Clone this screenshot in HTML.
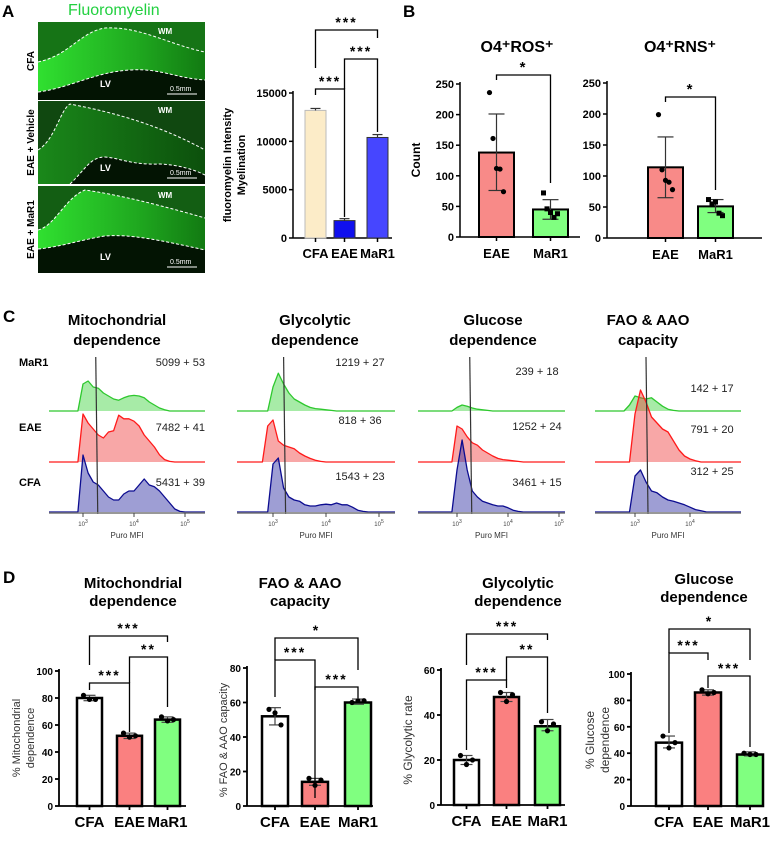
<!DOCTYPE html>
<html><head><meta charset="utf-8">
<style>
html,body{margin:0;padding:0;background:#fff;}
svg{display:block;font-family:"Liberation Sans",Arial,sans-serif;}
</style></head>
<body>
<svg id="fig" width="777" height="861" viewBox="0 0 777 861" xmlns="http://www.w3.org/2000/svg">
<defs>
<linearGradient id="g1" x1="0" y1="0" x2="1" y2="0"><stop offset="0" stop-color="#30e030"/><stop offset="0.6" stop-color="#1fa81f"/><stop offset="1" stop-color="#127a12"/></linearGradient>
<linearGradient id="g2" x1="0" y1="0" x2="1" y2="0"><stop offset="0" stop-color="#1a881a"/><stop offset="1" stop-color="#0c500c"/></linearGradient>
</defs>
<g id="root"></g>
</svg>
<script>
// ---------- DATA ----------
var aCats = ['CFA','EAE','MaR1'];
var aVals = [13200, 1800, 10400];
var aErr = [200, 200, 300];
var aTicks = [0, 5000, 10000, 15000];

var bCats = ['EAE','MaR1'];
var rosVals = [138, 45];
var rosHi = [201, 61];
var rosLo = [76, 29];
var rosPtsEAE = [236, 161, 112, 111, 74];
var rosPtsMaR1 = [72, 46, 40, 32, 38];
var rnsVals = [114, 51];
var rnsHi = [163, 62];
var rnsLo = [65, 41];
var rnsPtsEAE = [199, 110, 93, 90, 78];
var rnsPtsMaR1 = [62, 55, 58, 40, 36];
var bTicks = [0, 50, 100, 150, 200, 250];

var histLog = [2.7,2.8,2.9,3.0,3.1,3.2,3.3,3.4,3.5,3.6,3.7,3.8,3.9,4.0,4.1,4.2,4.3,4.4,4.5,4.6,4.7,4.8,4.9,5.0,5.1,5.2];
var mitoGreen = [0,0,0,45,50,40,38,30,25,20,18,22,25,26,25,22,15,10,5,2,0,0,0,0,0,0];
var mitoRed   = [0,0,0,80,65,55,45,40,50,52,78,72,72,68,60,45,35,25,12,4,1,0,0,0,0,0];
var mitoBlue  = [0,0,0,95,65,50,45,35,25,20,20,30,35,35,45,55,45,42,35,25,15,5,1,0,0,0];
var glyGreen  = [0,0,0,40,63,45,30,20,15,10,6,4,3,2,1,0,0,0,0,0,0,0,0,0,0,0];
var glyRed    = [0,0,60,70,35,28,25,22,15,10,6,3,1,0,0,0,0,0,0,0,0,0,0,0,0,0];
var glyBlue   = [0,0,0,80,90,40,25,20,18,12,10,10,12,13,12,15,12,12,8,3,1,0,0,0,0,0];
var gluGreen  = [0,0,0,6,10,8,5,3,2,1,0,0,0,0,0,0,0,0,0,0,0,0,0,0,0,0];
var gluRed    = [0,0,0,60,55,42,32,28,20,15,10,6,4,3,2,1,0,0,0,0,0,0,0,0,0,0];
var gluBlue   = [0,0,0,70,120,70,35,25,18,15,12,10,10,7,3,1,0,0,0,0,0,0,0,0,0,0];
var faoGreen  = [0,0,10,25,22,20,22,15,8,3,1,0,0,0,0,0,0,0,0,0,0,0,0,0,0,0];
var faoRed    = [0,0,0,80,120,100,75,65,55,50,35,20,10,5,2,0,0,0,0,0,0,0,0,0,0,0];
var faoBlue   = [0,0,0,60,70,50,35,32,25,20,18,15,12,8,4,2,0,0,0,0,0,0,0,0,0,0];
var histStats = [['5099 + 53','7482 + 41','5431 + 39'],['1219 + 27','818 + 36','1543 + 23'],['239 + 18','1252 + 24','3461 + 15'],['142 + 17','791 + 20','312 + 25']];
var histGates = [3.25, 3.2, 3.25, 3.2];

var dCats = ['CFA','EAE','MaR1'];
var mitoVals = [80, 52, 64]; var mitoHi = [82, 54, 66]; var mitoLo = [78, 50, 62];
var mitoPts = [[82,79,79],[54,51,52],[66,63,64]];
var faoVals = [52, 14, 60]; var faoHi = [57, 16, 62]; var faoLo = [47, 12, 59];
var faoPts = [[56,54,47],[16,12,15],[60,61,61]];
var glyVals = [20, 48, 35]; var glyHi = [22, 50, 38]; var glyLo = [18, 46, 33];
var glyPts = [[22,18,20],[50,46,49],[37,33,36]];
var gluVals = [48, 86, 39]; var gluHi = [53, 88, 41]; var gluLo = [44, 84, 38];
var gluPts = [[53,44,48],[88,85,86],[40,39,39]];
var d100Ticks = [0,20,40,60,80,100];
var d80Ticks = [0,20,40,60,80];
var d60Ticks = [0,20,40,60];

// ---------- HELPERS ----------
var NS = 'http://www.w3.org/2000/svg';
var root = document.getElementById('root');
function mk(tag, attrs, parent){
  var e = document.createElementNS(NS, tag);
  for (var k in attrs) e.setAttribute(k, attrs[k]);
  (parent || root).appendChild(e);
  return e;
}
function txt(s, x, y, attrs, name, parent){
  var t = mk('text', Object.assign({x:x, y:y}, attrs), parent);
  t.textContent = s;
  
  
  return t;
}
function line(x1,y1,x2,y2,stroke,w,name,parent){
  var l = mk('line',{x1:x1,y1:y1,x2:x2,y2:y2,stroke:stroke,'stroke-width':w},parent);
  
  
  return l;
}

// ---------- PANEL LETTERS ----------
txt('A',2,17,{'font-size':17,'font-weight':'bold'},'panel-a-label');
txt('B',403,17,{'font-size':17,'font-weight':'bold'},'panel-b-label');
txt('C',3,322,{'font-size':17,'font-weight':'bold'},'panel-c-label');
txt('D',3,583,{'font-size':17,'font-weight':'bold'},'panel-d-label');

// ---------- PANEL A MICROGRAPHS ----------
txt('Fluoromyelin',68,15,{'font-size':16,fill:'#22d040'},'fluoromyelin-title');
var micro = [
  {y:22,h:78,lab:'CFA',grad:'url(#g1)',top:'M38,62 C70,55 80,32 105,28 C140,26 170,45 205,52',bot:'M38,92 C70,88 95,72 130,70 C160,68 175,78 205,80',topc:'#167416'},
  {y:101,h:83,lab:'EAE + Vehicle',grad:'url(#g2)',top:'M38,150 C55,140 60,110 70,104 C100,110 150,120 205,150',bot:'M70,184 C85,170 90,157 105,157 C120,158 130,165 160,164 C180,165 195,170 205,175',topc:'#104810'},
  {y:186,h:87,lab:'EAE + MaR1',grad:'url(#g1)',top:'M38,230 C55,226 65,198 85,190 C120,195 160,205 205,218',bot:'M38,249 C60,247 80,240 105,236 C130,234 160,240 205,250',topc:'#135e13'}
];
micro.forEach(function(m,i){
  var g = mk('g',{});
  
  
  var r = mk('rect',{x:38,y:m.y,width:167,height:m.h,fill:m.grad},g);
  
  
  var yb = m.y+m.h;
  var tp = mk('path',{d:m.top+' L205,'+m.y+' L38,'+m.y+' Z',fill:m.topc},g);
  
  
  var bp = mk('path',{d:m.bot+' L205,'+yb+' L38,'+yb+' Z',fill:'#031403'},g);
  
  
  var d1 = mk('path',{d:m.top,fill:'none',stroke:'#fff','stroke-width':1,'stroke-dasharray':'3,2'},g);
  
  
  var d2 = mk('path',{d:m.bot,fill:'none',stroke:'#fff','stroke-width':1,'stroke-dasharray':'3,2'},g);
  
  
  txt('WM',158,m.y+12,{'font-size':8,'font-weight':'bold',fill:'#fff'},'wm-label',g);
  txt('LV',100,m.y+m.h-13,{'font-size':9,'font-weight':'bold',fill:'#fff'},'lv-label',g);
  txt('0.5mm',170,m.y+m.h-9,{'font-size':7,fill:'#fff'},'scale-bar-label',g);
  line(167,m.y+m.h-6,197,m.y+m.h-6,'#fff',1,'scale-bar',g);
  var cy = m.y+m.h/2;
  txt(m.lab,0,0,{'font-size':10,'font-weight':'bold','text-anchor':'middle',transform:'translate(34,'+cy+') rotate(-90)'},'micrograph-row-label');
});

// ---------- BAR CHART GENERIC ----------
function barChart(c){
  var g = mk('g',{});
  
  
  function y(v){ return c.y0 - v*(c.y0-c.yTop)/c.vmax; }
  line(c.ax, c.yTop-2, c.ax, c.y0, '#000', c.aw, 'y-axis', g);
  line(c.ax, c.y0, c.axEnd, c.y0, '#000', c.aw, 'x-axis', g);
  c.ticks.forEach(function(t){
    line(c.ax-4, y(t), c.ax, y(t), '#000', c.aw, 'y-tick', g);
    txt(String(t), c.ax-6, y(t)+4, {'font-size':c.tfs,'font-weight':'bold','text-anchor':'end'}, 'y-tick-label', g);
  });
  c.vals.forEach(function(v,i){
    var x0 = c.bx[i], w = c.bw, cx = x0+w/2;
    var b = mk('rect',{x:x0,y:y(v),width:w,height:c.y0-y(v),fill:c.colors[i],stroke:c.stroke[i],'stroke-width':c.sw},g);
    
    
    var hi = c.hi[i], lo = c.lo[i];
    line(cx, y(hi), cx, y(lo), c.ecol, 1.2, 'error-bar', g);
    line(cx-c.cap, y(hi), cx+c.cap, y(hi), c.ecol, 1.2, 'error-cap-high', g);
    if (c.capLo) line(cx-c.cap, y(lo), cx+c.cap, y(lo), c.ecol, 1.2, 'error-cap-low', g);
    line(cx, c.y0, cx, c.y0+4, '#000', c.aw, 'x-tick', g);
    txt(c.cats[i], cx, c.y0+c.lblOff, {'font-size':c.lfs,'font-weight':'bold','text-anchor':'middle'}, 'x-tick-label', g);
    if (c.pts){
      var p = c.pts[i], n = p.length;
      p.forEach(function(pv,j){
        var px = cx + (n>1 ? (j-(n-1)/2)*(c.spread/(n-1)) : 0);
        var dot;
        if (c.square && c.square[i]) dot = mk('rect',{x:px-2.5,y:y(pv)-2.5,width:5,height:5,fill:'#000'},g);
        else dot = mk('circle',{cx:px,cy:y(pv),r:2.6,fill:'#000'},g);
        
        
      });
    }
  });
  (c.brackets||[]).forEach(function(br){
    var xa = c.bx[br.a]+c.bw/2, xb = c.bx[br.b]+c.bw/2;
    var p = mk('path',{d:'M'+xa+','+br.la+' L'+xa+','+br.y+' L'+xb+','+br.y+' L'+xb+','+br.lb,fill:'none',stroke:'#000','stroke-width':1.3},g);
    
    
    txt(br.s,(xa+xb)/2,br.y-3,{'font-size':c.sfs,'font-weight':'bold','text-anchor':'middle','letter-spacing':'2'},'significance-stars',g);
  });
  return g;
}

// ---------- PANEL A CHART ----------
barChart({name:'myelination-chart',ax:293,axEnd:392,y0:238,yTop:93,vmax:15000,aw:1.5,ticks:aTicks,tfs:11,
  vals:aVals,hi:aVals.map(function(v,i){return v+aErr[i];}),lo:aVals,cats:aCats,bx:[305,334,367],bw:21,
  colors:['#fcecc8','#1010ee','#4646ff'],stroke:['#bbb','#333','#333'],sw:1,ecol:'#333',cap:5,capLo:false,
  lblOff:20,lfs:13,sfs:14,brackets:[
  {a:0,b:1,y:89,la:95,lb:217,s:'***'},
  {a:1,b:2,y:59,la:89,lb:132,s:'***'},
  {a:0,b:2,y:30,la:68,lb:38,s:'***'}]});
txt('fluoromyelin Intensity',0,0,{'font-size':11,'font-weight':'bold','text-anchor':'middle',transform:'translate(231,165) rotate(-90)'},'y-axis-title-line1');
txt('Myelination',0,0,{'font-size':11,'font-weight':'bold','text-anchor':'middle',transform:'translate(245,165) rotate(-90)'},'y-axis-title-line2');

// ---------- PANEL B ----------
txt('O4⁺ROS⁺',517,52,{'font-size':16,'font-weight':'bold','text-anchor':'middle'},'ros-chart-title');
barChart({name:'ros-chart',ax:460,axEnd:580,y0:237,yTop:84,vmax:250,aw:1.5,ticks:bTicks,tfs:11,
  vals:rosVals,hi:rosHi,lo:rosLo,cats:bCats,bx:[479,533],bw:35,colors:['#f88a88','#80ff80'],stroke:['#000','#000'],sw:2,
  ecol:'#333',cap:8,capLo:true,lblOff:21,lfs:13,sfs:15,pts:[rosPtsEAE,rosPtsMaR1],spread:14,square:[false,true],
  brackets:[{a:0,b:1,y:75,la:80,lb:183,s:'*'}]});
txt('Count',0,0,{'font-size':12,'font-weight':'bold','text-anchor':'middle',transform:'translate(420,160) rotate(-90)'},'count-axis-title');
txt('O4⁺RNS⁺',680,52,{'font-size':16,'font-weight':'bold','text-anchor':'middle'},'rns-chart-title');
barChart({name:'rns-chart',ax:607,axEnd:762,y0:238,yTop:83,vmax:250,aw:1.5,ticks:bTicks,tfs:11,
  vals:rnsVals,hi:rnsHi,lo:rnsLo,cats:bCats,bx:[648,698],bw:35,colors:['#f88a88','#80ff80'],stroke:['#000','#000'],sw:2,
  ecol:'#333',cap:8,capLo:true,lblOff:21,lfs:13,sfs:15,pts:[rnsPtsEAE,rnsPtsMaR1],spread:14,square:[false,true],
  brackets:[{a:0,b:1,y:97,la:102,lb:190,s:'*'}]});

// ---------- PANEL C HISTOGRAMS ----------
var panelsC = [
  {t1:'Mitochondrial',t2:'dependence',cx:117,x0:49,x1:205,x3:83,dec:51,series:[mitoGreen,mitoRed,mitoBlue],sx:205,anchor:'end',sy:[366,431,486]},
  {t1:'Glycolytic',t2:'dependence',cx:315,x0:237,x1:395,x3:273,dec:53,series:[glyGreen,glyRed,glyBlue],sx:360,anchor:'middle',sy:[366,424,480]},
  {t1:'Glucose',t2:'dependence',cx:493,x0:418,x1:565,x3:457,dec:51,series:[gluGreen,gluRed,gluBlue],sx:537,anchor:'middle',sy:[375,430,486]},
  {t1:'FAO & AAO',t2:'capacity',cx:648,x0:595,x1:741,x3:635,dec:55,series:[faoGreen,faoRed,faoBlue],sx:712,anchor:'middle',sy:[392,433,475]}
];
var baseY = [411,462,512];
var fills = ['rgba(60,210,60,0.45)','rgba(240,60,60,0.45)','rgba(40,40,160,0.45)'];
var strokes = ['#2ec82e','#ff1a1a','#0c0c90'];
panelsC.forEach(function(p,pi){
  var g = mk('g',{});
  
  
  txt(p.t1,p.cx,325,{'font-size':15,'font-weight':'bold','text-anchor':'middle'},'histogram-title-line1',g);
  txt(p.t2,p.cx,345,{'font-size':15,'font-weight':'bold','text-anchor':'middle'},'histogram-title-line2',g);
  function xs(l){ return p.x3 + (l-3)*p.dec; }
  p.series.forEach(function(s,si){
    var by = baseY[si];
    var d = 'M'+p.x0+','+by;
    histLog.forEach(function(l,k){
      var x = Math.max(p.x0, Math.min(p.x1, xs(l)));
      d += ' L'+x.toFixed(1)+','+(by - s[k]*0.6).toFixed(1);
    });
    d += ' L'+p.x1+','+by;
    var path = mk('path',{d:d,fill:fills[si],stroke:strokes[si],'stroke-width':1.3,'stroke-linejoin':'round'},g);
    
    
    txt(histStats[pi][si],p.sx,p.sy[si],{'font-size':11,'text-anchor':p.anchor,fill:'#222'},'mfi-value',g);
  });
  var gx = xs(histGates[pi]);
  line(gx,357,gx+2,514,'#333',1.2,'gate-line',g);
  line(p.x0,513,p.x1,513,'#777',1.5,'histogram-x-axis',g);
  [3,4,5].forEach(function(e){
    var x = xs(e);
    if (x <= p.x1+3){
      line(x,513,x,517,'#444',1,'histogram-tick',g);
      var t = txt('10',x,526,{'font-size':6,'text-anchor':'middle',fill:'#444'},'histogram-tick-label',g);
      var sup = mk('tspan',{dy:-3,'font-size':5},t); sup.textContent = String(e);
    }
  });
  txt('Puro MFI',(p.x0+p.x1)/2,538,{'font-size':8,'text-anchor':'middle',fill:'#333'},'histogram-x-axis-title',g);
});
txt('MaR1',19,366,{'font-size':11,'font-weight':'bold'},'row-label-mar1');
txt('EAE',19,431,{'font-size':11,'font-weight':'bold'},'row-label-eae');
txt('CFA',19,486,{'font-size':11,'font-weight':'bold'},'row-label-cfa');

// ---------- PANEL D ----------
var dColors = ['#ffffff','#fa8080','#80ff80'];
var dStroke = ['#000','#000','#000'];
function dChart(o){
  return barChart(Object.assign({aw:1.8,tfs:10,cats:dCats,colors:dColors,stroke:dStroke,sw:2.5,ecol:'#444',cap:6,capLo:true,
    lblOff:21,lfs:15,sfs:14,spread:12},o));
}
txt('Mitochondrial',133,588,{'font-size':15,'font-weight':'bold','text-anchor':'middle'},'d1-title-line1');
txt('dependence',133,606,{'font-size':15,'font-weight':'bold','text-anchor':'middle'},'d1-title-line2');
dChart({name:'mito-dependence-chart',ax:59,axEnd:186,y0:806,yTop:671,vmax:100,ticks:d100Ticks,
  vals:mitoVals,hi:mitoHi,lo:mitoLo,pts:mitoPts,bx:[77,117,155],bw:25,
  brackets:[{a:0,b:1,y:683,la:690,lb:732,s:'***'},{a:1,b:2,y:657,la:683,lb:707,s:'**'},{a:0,b:2,y:636,la:665,lb:642,s:'***'}]});
txt('% Mitochondrial',0,0,{'font-size':11,'text-anchor':'middle',fill:'#333',transform:'translate(20,738) rotate(-90)'},'d1-y-title-line1');
txt('dependence',0,0,{'font-size':11,'text-anchor':'middle',fill:'#333',transform:'translate(34,738) rotate(-90)'},'d1-y-title-line2');

txt('FAO & AAO',300,588,{'font-size':15,'font-weight':'bold','text-anchor':'middle'},'d2-title-line1');
txt('capacity',300,606,{'font-size':15,'font-weight':'bold','text-anchor':'middle'},'d2-title-line2');
dChart({name:'fao-capacity-chart',ax:247,axEnd:373,y0:806,yTop:668,vmax:80,ticks:d80Ticks,
  vals:faoVals,hi:faoHi,lo:faoLo,pts:faoPts,bx:[262,302,345],bw:26,
  brackets:[{a:0,b:1,y:660,la:697,lb:798,s:'***'},{a:1,b:2,y:687,la:690,lb:698,s:'***'},{a:0,b:2,y:638,la:660,lb:670,s:'*'}]});
txt('% FAO & AAO capacity',0,0,{'font-size':11,'text-anchor':'middle',fill:'#333',transform:'translate(227,740) rotate(-90)'},'d2-y-title');

txt('Glycolytic',518,588,{'font-size':15,'font-weight':'bold','text-anchor':'middle'},'d3-title-line1');
txt('dependence',518,606,{'font-size':15,'font-weight':'bold','text-anchor':'middle'},'d3-title-line2');
dChart({name:'glycolytic-chart',ax:441,axEnd:565,y0:805,yTop:670,vmax:60,ticks:d60Ticks,
  vals:glyVals,hi:glyHi,lo:glyLo,pts:glyPts,bx:[454,494,535],bw:25,
  brackets:[{a:0,b:1,y:680,la:750,lb:688,s:'***'},{a:1,b:2,y:657,la:680,lb:713,s:'**'},{a:0,b:2,y:634,la:665,lb:640,s:'***'}]});
txt('% Glycolytic rate',0,0,{'font-size':12,'text-anchor':'middle',fill:'#333',transform:'translate(412,740) rotate(-90)'},'d3-y-title');

txt('Glucose',704,584,{'font-size':15,'font-weight':'bold','text-anchor':'middle'},'d4-title-line1');
txt('dependence',704,602,{'font-size':15,'font-weight':'bold','text-anchor':'middle'},'d4-title-line2');
dChart({name:'glucose-chart',ax:631,axEnd:762,y0:806,yTop:674,vmax:100,ticks:d100Ticks,
  vals:gluVals,hi:gluHi,lo:gluLo,pts:gluPts,bx:[656,695,737],bw:26,
  brackets:[{a:0,b:1,y:653,la:733,lb:660,s:'***'},{a:1,b:2,y:676,la:688,lb:747,s:'***'},{a:0,b:2,y:629,la:653,lb:660,s:'*'}]});
txt('% Glucose',0,0,{'font-size':12,'text-anchor':'middle',fill:'#333',transform:'translate(594,740) rotate(-90)'},'d4-y-title-line1');
txt('dependence',0,0,{'font-size':12,'text-anchor':'middle',fill:'#333',transform:'translate(609,740) rotate(-90)'},'d4-y-title-line2');
</script>
</body></html>
